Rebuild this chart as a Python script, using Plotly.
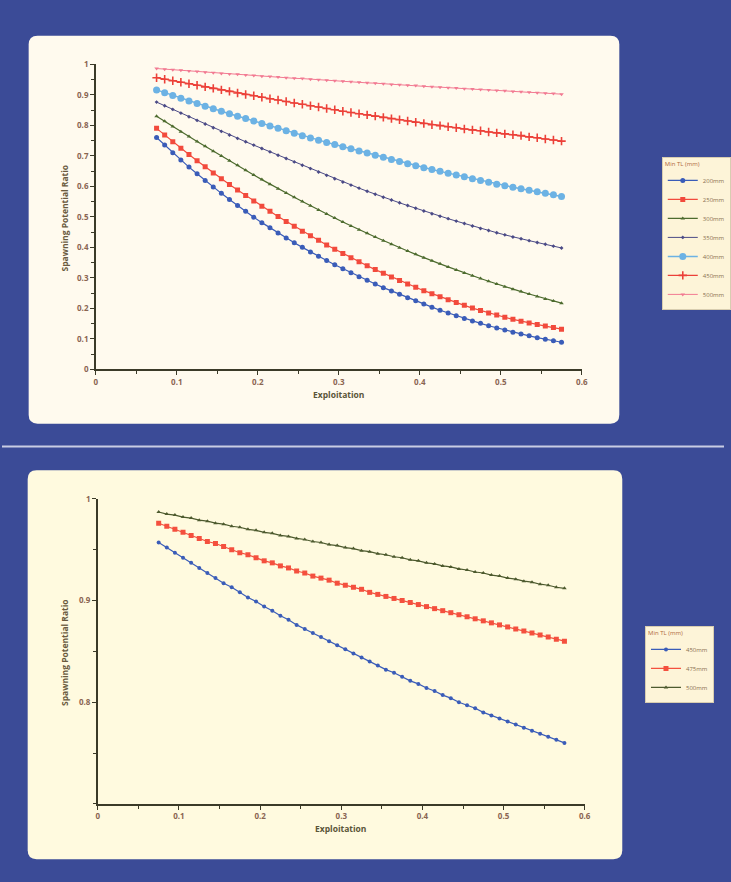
import plotly.graph_objects as go

# ---------------- data ----------------
exploitation = [0.075, 0.085, 0.095, 0.105, 0.115, 0.125, 0.135, 0.145, 0.155, 0.165,
                0.175, 0.185, 0.195, 0.205, 0.215, 0.225, 0.235, 0.245, 0.255, 0.265,
                0.275, 0.285, 0.295, 0.305, 0.315, 0.325, 0.335, 0.345, 0.355, 0.365,
                0.375, 0.385, 0.395, 0.405, 0.415, 0.425, 0.435, 0.445, 0.455, 0.465,
                0.475, 0.485, 0.495, 0.505, 0.515, 0.525, 0.535, 0.545, 0.555, 0.565,
                0.575]

# top panel
spr_200 = [0.760, 0.735, 0.710, 0.686, 0.663, 0.641, 0.619, 0.598, 0.577, 0.557,
           0.537, 0.518, 0.499, 0.481, 0.464, 0.447, 0.431, 0.415, 0.400, 0.385,
           0.371, 0.357, 0.343, 0.330, 0.317, 0.304, 0.292, 0.280, 0.268, 0.257,
           0.246, 0.235, 0.225, 0.214, 0.204, 0.194, 0.185, 0.176, 0.167, 0.159,
           0.151, 0.143, 0.136, 0.129, 0.122, 0.116, 0.110, 0.104, 0.099, 0.094,
           0.089]
spr_250 = [0.790, 0.768, 0.746, 0.725, 0.704, 0.684, 0.664, 0.644, 0.625, 0.606,
           0.588, 0.570, 0.552, 0.535, 0.518, 0.501, 0.485, 0.469, 0.453, 0.438,
           0.423, 0.408, 0.394, 0.380, 0.366, 0.353, 0.340, 0.327, 0.315, 0.303,
           0.291, 0.280, 0.269, 0.258, 0.248, 0.238, 0.228, 0.219, 0.210, 0.201,
           0.193, 0.185, 0.178, 0.171, 0.164, 0.158, 0.152, 0.147, 0.142, 0.137,
           0.132]
spr_300 = [0.830, 0.813, 0.796, 0.779, 0.763, 0.747, 0.731, 0.715, 0.699, 0.684,
           0.669, 0.653, 0.637, 0.622, 0.607, 0.592, 0.578, 0.564, 0.550, 0.536,
           0.522, 0.509, 0.496, 0.483, 0.470, 0.458, 0.446, 0.434, 0.422, 0.410,
           0.399, 0.388, 0.377, 0.366, 0.356, 0.346, 0.336, 0.326, 0.316, 0.307,
           0.298, 0.289, 0.280, 0.271, 0.263, 0.255, 0.247, 0.239, 0.231, 0.224,
           0.217]
spr_350 = [0.876, 0.864, 0.852, 0.840, 0.828, 0.816, 0.804, 0.792, 0.780, 0.768,
           0.757, 0.746, 0.735, 0.724, 0.713, 0.702, 0.691, 0.680, 0.669, 0.658,
           0.647, 0.636, 0.625, 0.614, 0.604, 0.594, 0.584, 0.574, 0.564, 0.555,
           0.546, 0.537, 0.528, 0.519, 0.510, 0.502, 0.494, 0.486, 0.478, 0.470,
           0.462, 0.455, 0.448, 0.441, 0.434, 0.428, 0.422, 0.416, 0.410, 0.404,
           0.398]
spr_400 = [0.916, 0.907, 0.898, 0.889, 0.880, 0.871, 0.862, 0.854, 0.846, 0.838,
           0.830, 0.822, 0.814, 0.806, 0.798, 0.790, 0.782, 0.774, 0.766, 0.758,
           0.751, 0.744, 0.737, 0.730, 0.723, 0.716, 0.709, 0.702, 0.695, 0.688,
           0.681, 0.674, 0.667, 0.661, 0.655, 0.649, 0.643, 0.637, 0.631, 0.625,
           0.619, 0.613, 0.607, 0.602, 0.597, 0.592, 0.587, 0.582, 0.577, 0.572,
           0.567]
spr_450 = [0.956, 0.951, 0.946, 0.941, 0.936, 0.931, 0.926, 0.921, 0.916, 0.911,
           0.906, 0.901, 0.897, 0.892, 0.887, 0.883, 0.878, 0.873, 0.869, 0.864,
           0.860, 0.855, 0.851, 0.846, 0.842, 0.838, 0.834, 0.830, 0.826, 0.822,
           0.818, 0.814, 0.810, 0.806, 0.802, 0.799, 0.795, 0.792, 0.788, 0.785,
           0.782, 0.778, 0.775, 0.772, 0.769, 0.766, 0.762, 0.759, 0.755, 0.752,
           0.748]
spr_500 = [0.986, 0.984, 0.982, 0.980, 0.978, 0.976, 0.974, 0.972, 0.970, 0.968,
           0.967, 0.965, 0.963, 0.961, 0.960, 0.958, 0.956, 0.954, 0.953, 0.951,
           0.949, 0.948, 0.946, 0.944, 0.943, 0.941, 0.939, 0.938, 0.936, 0.934,
           0.933, 0.931, 0.930, 0.928, 0.926, 0.925, 0.923, 0.922, 0.920, 0.919,
           0.917, 0.916, 0.914, 0.913, 0.911, 0.910, 0.908, 0.907, 0.905, 0.904,
           0.902]

# bottom panel
spr2_450 = [0.957, 0.952, 0.947, 0.942, 0.937, 0.932, 0.927, 0.922, 0.917, 0.913,
            0.908, 0.903, 0.899, 0.894, 0.890, 0.885, 0.881, 0.876, 0.872, 0.868,
            0.864, 0.860, 0.856, 0.852, 0.848, 0.844, 0.840, 0.836, 0.832, 0.829,
            0.825, 0.821, 0.818, 0.814, 0.811, 0.807, 0.804, 0.800, 0.797, 0.794,
            0.790, 0.787, 0.784, 0.781, 0.778, 0.775, 0.772, 0.769, 0.766, 0.763,
            0.760]
spr2_475 = [0.976, 0.973, 0.970, 0.967, 0.964, 0.961, 0.958, 0.956, 0.953, 0.950,
            0.947, 0.945, 0.942, 0.939, 0.937, 0.934, 0.932, 0.929, 0.927, 0.924,
            0.922, 0.920, 0.917, 0.915, 0.913, 0.911, 0.908, 0.906, 0.904, 0.902,
            0.900, 0.898, 0.896, 0.894, 0.892, 0.890, 0.888, 0.886, 0.884, 0.882,
            0.880, 0.878, 0.876, 0.874, 0.872, 0.870, 0.868, 0.866, 0.864, 0.862,
            0.860]
spr2_500 = [0.987, 0.985, 0.984, 0.982, 0.981, 0.979, 0.978, 0.976, 0.975, 0.973,
            0.972, 0.970, 0.969, 0.967, 0.966, 0.964, 0.963, 0.961, 0.960, 0.958,
            0.957, 0.955, 0.954, 0.952, 0.951, 0.949, 0.948, 0.946, 0.945, 0.943,
            0.942, 0.940, 0.939, 0.937, 0.936, 0.934, 0.933, 0.931, 0.930, 0.928,
            0.927, 0.925, 0.924, 0.922, 0.921, 0.919, 0.918, 0.916, 0.915, 0.913,
            0.912]

top_names = ["200mm", "250mm", "300mm", "350mm", "400mm", "450mm", "500mm"]
top_values = [spr_200, spr_250, spr_300, spr_350, spr_400, spr_450, spr_500]
bottom_names = ["450mm", "475mm", "500mm"]
bottom_values = [spr2_450, spr2_475, spr2_500]

x_ticks = [0, 0.1, 0.2, 0.3, 0.4, 0.5, 0.6]
x_ticktext = ["0", "0.1", "0.2", "0.3", "0.4", "0.5", "0.6"]
y_ticks_top = [0, 0.1, 0.2, 0.3, 0.4, 0.5, 0.6, 0.7, 0.8, 0.9, 1.0]
y_ticktext_top = ["0", "0.1", "0.2", "0.3", "0.4", "0.5", "0.6", "0.7", "0.8", "0.9", "1"]
y_ticks_bottom = [0.8, 0.9, 1.0]
y_ticktext_bottom = ["0.8", "0.9", "1"]

legend_title = "Min TL (mm)"
x_title = "Exploitation"
y_title = "Spawning Potential Ratio"

# ---------------- styles ----------------
W, H = 731, 882
BG = "#3b4b97"
CREAM_TOP = "#fffaee"
CREAM_BOT = "#fffadf"
AXIS_COL = "#3b3a28"
TICK_COL = "#8a6552"
FONT = "Open Sans"

top_styles = [
    dict(color="#3a5cb8", symbol="circle", size=5, lw=1.2),
    dict(color="#f24a3c", symbol="square", size=5, lw=1.2),
    dict(color="#4d6b2e", symbol="triangle-up", size=4, lw=1.2),
    dict(color="#4b4a86", symbol="diamond", size=3, lw=1.0),
    dict(color="#6cb2e4", symbol="circle", size=7, lw=1.5),
    dict(color="#ec4038", symbol="cross-thin", size=6, lw=1.2),
    dict(color="#f27a92", symbol="triangle-down", size=4, lw=1.0),
]
bottom_styles = [
    dict(color="#3a5cb8", symbol="circle", size=4, lw=1.2),
    dict(color="#f4503e", symbol="square", size=5, lw=1.2),
    dict(color="#4d5a2e", symbol="triangle-up", size=4, lw=1.2),
]


def px_x(v):
    return v / W


def px_y(v):
    return 1 - v / H


def rrect(x0, y0, x1, y1, r):
    X, Y = px_x, px_y
    return (f"M {X(x0 + r)},{Y(y0)} L {X(x1 - r)},{Y(y0)} Q {X(x1)},{Y(y0)} {X(x1)},{Y(y0 + r)} "
            f"L {X(x1)},{Y(y1 - r)} Q {X(x1)},{Y(y1)} {X(x1 - r)},{Y(y1)} "
            f"L {X(x0 + r)},{Y(y1)} Q {X(x0)},{Y(y1)} {X(x0)},{Y(y1 - r)} "
            f"L {X(x0)},{Y(y0 + r)} Q {X(x0)},{Y(y0)} {X(x0 + r)},{Y(y0)} Z")


fig = go.Figure()

for name, vals, st in zip(top_names, top_values, top_styles):
    marker = dict(color=st["color"], symbol=st["symbol"], size=st["size"])
    if st["symbol"] == "cross-thin":
        marker["line"] = dict(color=st["color"], width=1.6)
    fig.add_trace(go.Scatter(
        x=exploitation, y=vals, name=name, mode="lines+markers",
        line=dict(color=st["color"], width=st["lw"]), marker=marker,
        xaxis="x", yaxis="y", legend="legend"))

for name, vals, st in zip(bottom_names, bottom_values, bottom_styles):
    fig.add_trace(go.Scatter(
        x=exploitation, y=vals, name=name, mode="lines+markers",
        line=dict(color=st["color"], width=st["lw"]),
        marker=dict(color=st["color"], symbol=st["symbol"], size=st["size"]),
        xaxis="x2", yaxis="y2", legend="legend2"))

axis_common = dict(
    showline=True, linecolor=AXIS_COL, linewidth=1.5, mirror=False,
    ticks="outside", ticklen=4, tickwidth=1.2, tickcolor=AXIS_COL,
    showgrid=False, zeroline=False,
    tickfont=dict(family=FONT, size=8, color=TICK_COL, weight="bold"),
    minor=dict(ticks="outside", ticklen=3, tickwidth=1, tickcolor=AXIS_COL, dtick=0.05, showgrid=False),
)

legend_common = dict(
    xanchor="left", yanchor="top",
    bgcolor="#fdf4d8", bordercolor="#d8cdb0", borderwidth=1,
    font=dict(family=FONT, size=6, color="#8a7050"),
    title=dict(text=legend_title, font=dict(family=FONT, size=6, color="#b06a40")),
    itemwidth=30, tracegroupgap=0,
)

title_font = dict(family=FONT, size=8.5, color="#6a5a3e", weight="bold")

fig.update_layout(
    width=W, height=H, autosize=False,
    margin=dict(l=0, r=0, t=0, b=0),
    paper_bgcolor=BG, plot_bgcolor="rgba(0,0,0,0)",
    showlegend=True,
    xaxis=dict(domain=[px_x(95), px_x(587)], anchor="y", range=[0, 0.6],
               tickvals=x_ticks, ticktext=x_ticktext, **axis_common),
    yaxis=dict(domain=[px_y(368), px_y(59)], anchor="x", range=[0, 1],
               tickvals=y_ticks_top, ticktext=y_ticktext_top, **axis_common),
    xaxis2=dict(domain=[px_x(97), px_x(590)], anchor="y2", range=[0, 0.6],
                tickvals=x_ticks, ticktext=x_ticktext, **axis_common),
    yaxis2=dict(domain=[px_y(808), px_y(499)], anchor="x2", range=[0.7, 1.0],
                tickvals=y_ticks_bottom, ticktext=y_ticktext_bottom, **axis_common),
    legend=dict(x=px_x(668), y=px_y(153), **legend_common),
    legend2=dict(x=px_x(651), y=px_y(628), **legend_common),
    shapes=[
        dict(type="path", xref="paper", yref="paper", path=rrect(27, 30, 625, 423, 9),
             fillcolor=CREAM_TOP, line=dict(width=0), layer="below"),
        dict(type="path", xref="paper", yref="paper", path=rrect(26, 470, 628, 864, 9),
             fillcolor=CREAM_BOT, line=dict(width=0), layer="below"),
        dict(type="line", xref="paper", yref="paper", x0=0, x1=1, y0=px_y(446), y1=px_y(446),
             line=dict(color="#c9cde4", width=2), layer="below"),
    ],
    annotations=[
        dict(text=y_title, xref="paper", yref="paper", x=px_x(63), y=px_y(215),
             xanchor="center", yanchor="middle", textangle=-90, showarrow=False,
             font=title_font),
        dict(text=y_title, xref="paper", yref="paper", x=px_x(64), y=px_y(655),
             xanchor="center", yanchor="middle", textangle=-90, showarrow=False,
             font=title_font),
        dict(text=x_title, xref="paper", yref="paper", x=px_x(341), y=px_y(393),
             xanchor="center", yanchor="middle", showarrow=False,
             font=dict(family=FONT, size=8.5, color="#5a5538", weight="bold")),
        dict(text=x_title, xref="paper", yref="paper", x=px_x(343), y=px_y(833),
             xanchor="center", yanchor="middle", showarrow=False,
             font=dict(family=FONT, size=8.5, color="#5a5538", weight="bold")),
    ],
)

fig.write_html("out.html")
